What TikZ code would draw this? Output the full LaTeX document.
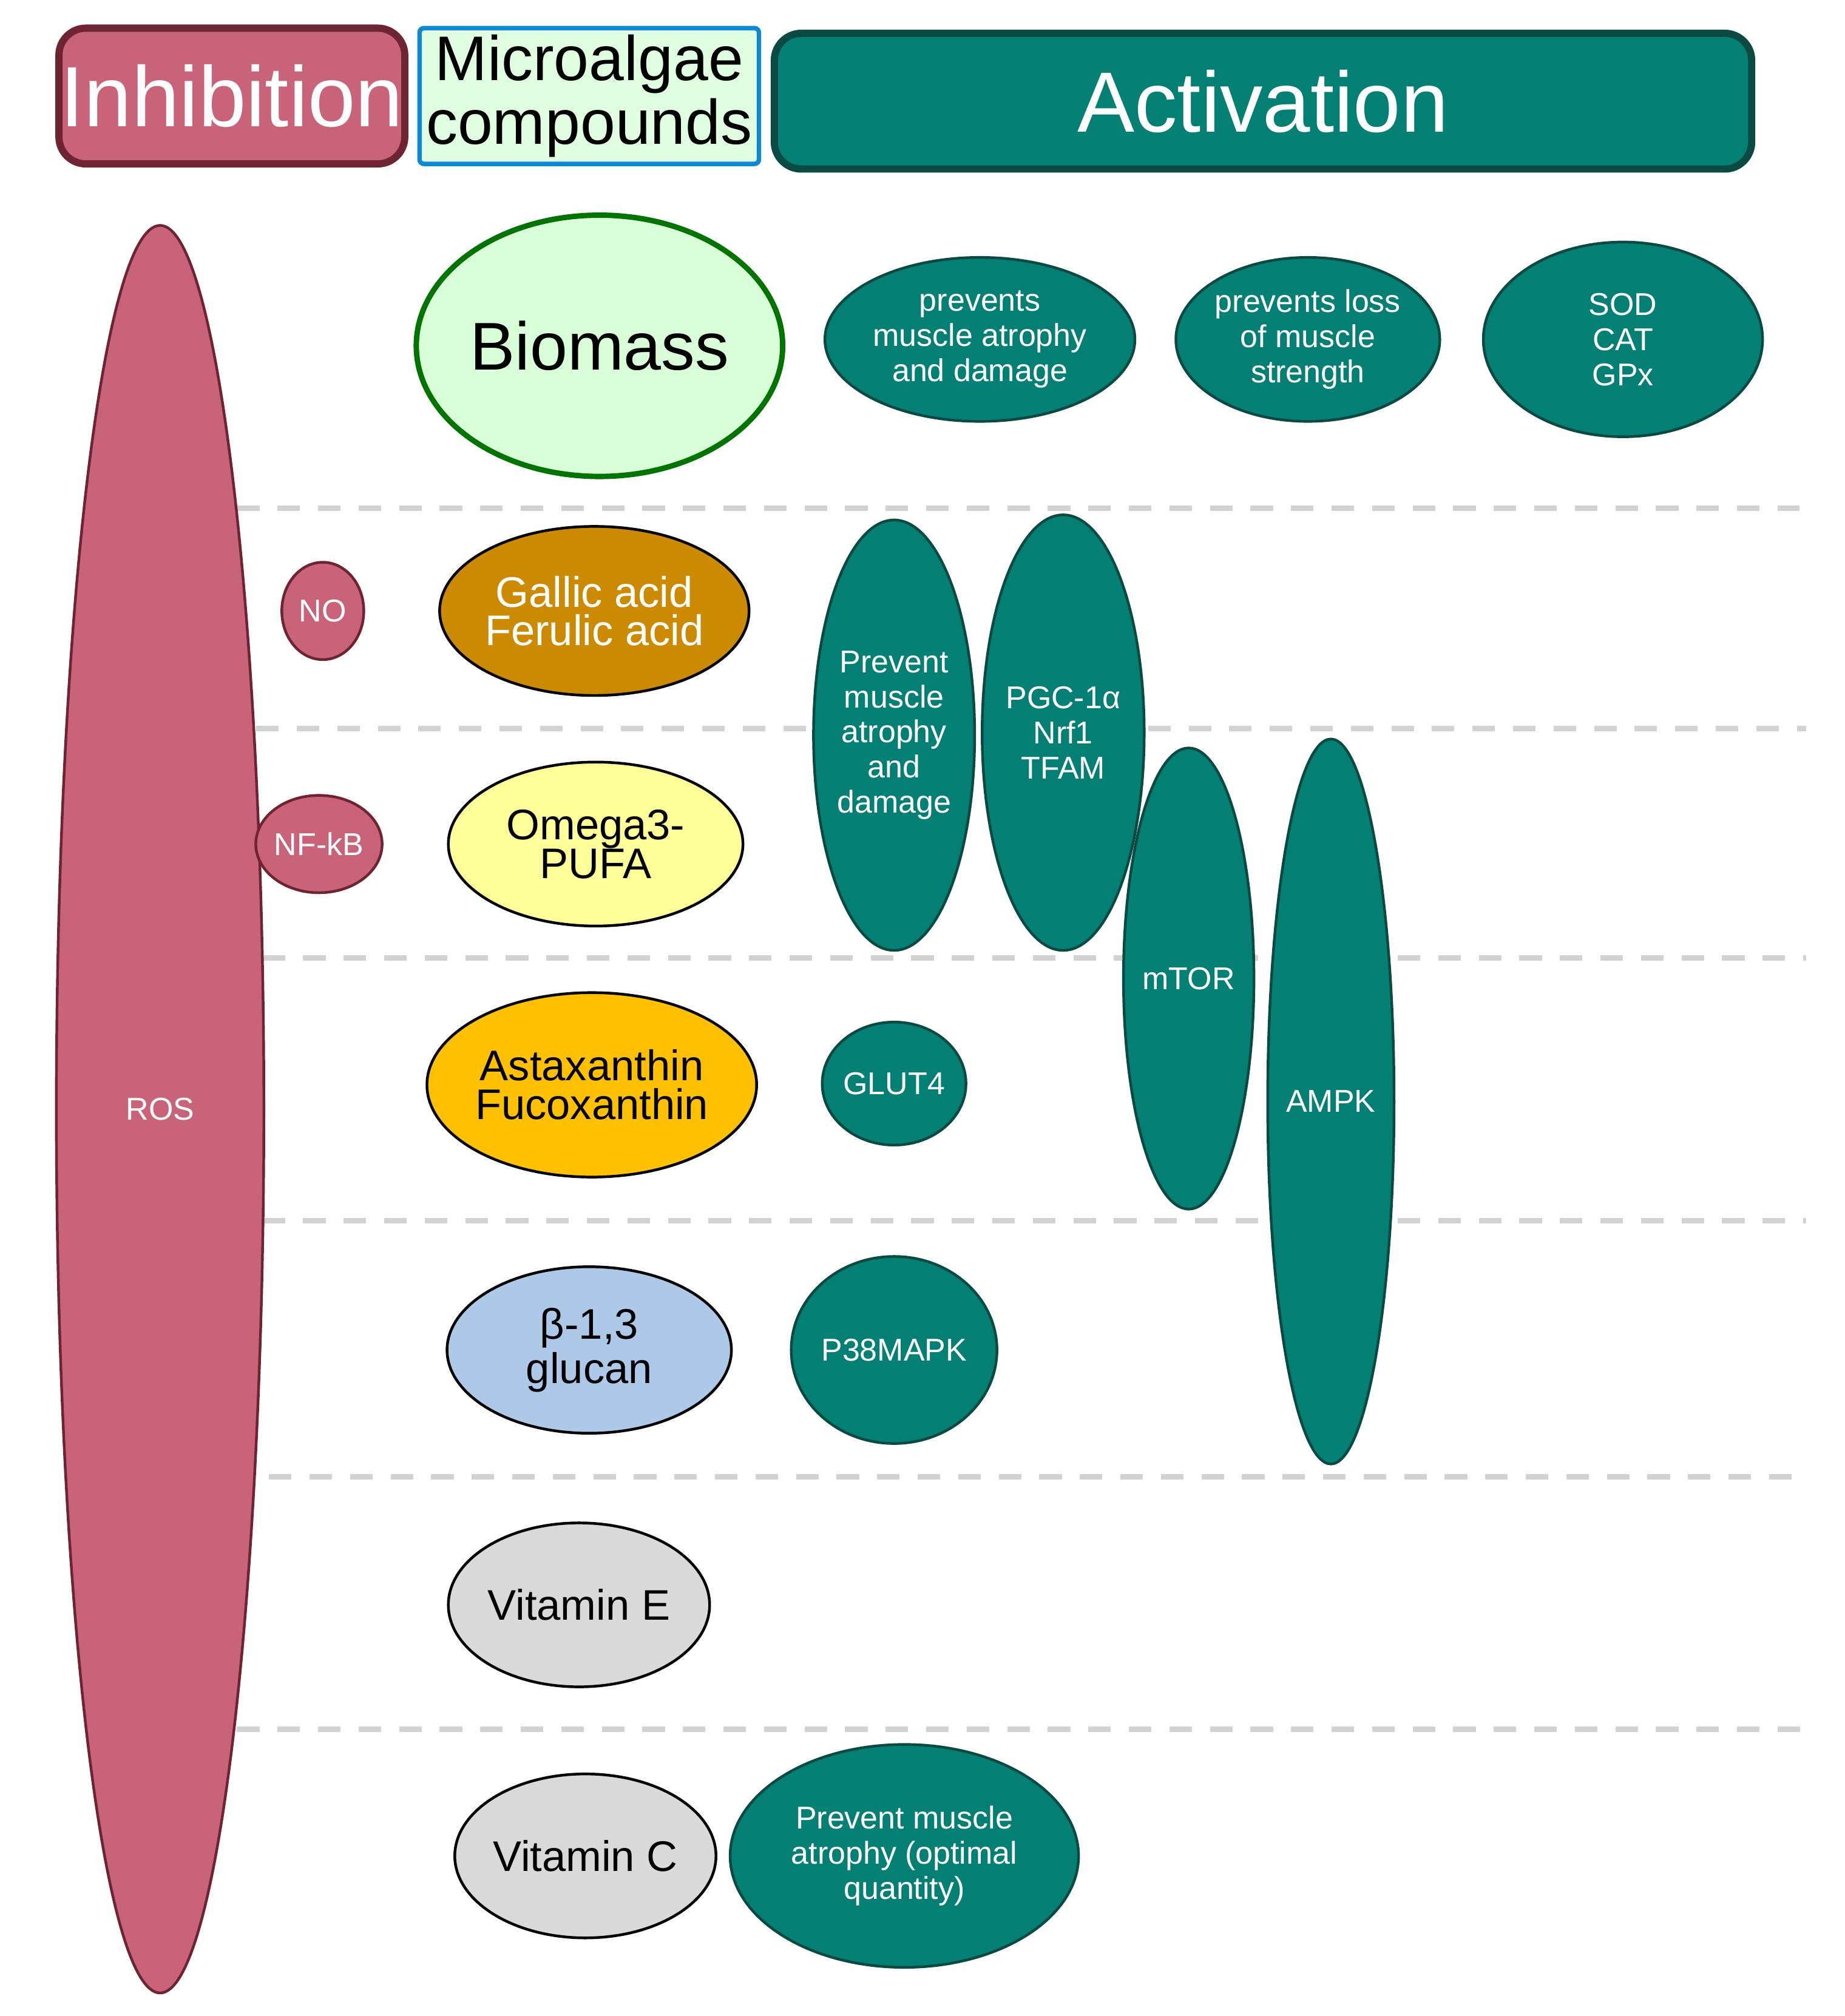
\documentclass[tikz,border=0pt]{standalone}
\usepackage{fontspec}
\setmainfont{Liberation Sans}
\usetikzlibrary{shapes.geometric}
\definecolor{pinkf}{HTML}{C9637A}
\definecolor{pinkd}{HTML}{6E2433}
\definecolor{tealf}{HTML}{047F74}
\definecolor{teald}{HTML}{0B4A43}
\begin{document}
\begin{tikzpicture}[x=0.01cm,y=-0.01cm,
 sz/.style 2 args={minimum width=#1*0.01cm,minimum height=#2*0.01cm},
 el/.style={ellipse,draw=black,line width=0.6pt,inner sep=0pt,align=center},
 inh/.style={el,fill=pinkf,draw=pinkd,text=white,font=\fontsize{7}{7.8}\selectfont},
 act/.style={el,fill=tealf,draw=teald,text=white,font=\fontsize{7}{7.8}\selectfont},
 cmp/.style={el,font=\fontsize{9.5}{8.6}\selectfont},
 hdr/.style={rounded corners=6pt,line width=1.6pt,align=center,inner sep=0pt},
 sep/.style={draw=gray!35,line width=1.2pt,dash pattern=on 5pt off 4pt}]
\path[fill=white] (0,0) rectangle (1440,1574);
% headers
\node[hdr,draw=pinkd,fill=pinkf,text=white,sz={270}{106},font=\fontsize{19}{20}\selectfont] (hI) at (181,75) {Inhibition};
\node[hdr,draw=cyan!70!blue,fill=green!12!white,rounded corners=1pt,line width=1pt,sz={265}{106},font=\fontsize{14}{12.8}\selectfont] (hM) at (460,75) {Microalgae\\compounds};
\node[hdr,draw=teald,fill=tealf,text=white,sz={763}{106},font=\fontsize{19}{20}\selectfont] (hA) at (986,79) {Activation};
% separators
\draw[sep] (185,397) -- (1405,397);
\draw[sep] (200,569) -- (1410,569);
\draw[sep] (205,748) -- (1410,748);
\draw[sep] (205,953) -- (1410,953);
\draw[sep] (210,1153) -- (1410,1153);
\draw[sep] (185,1350) -- (1410,1350);
% inhibition
\node[inh,sz={162}{1380}] (ros) at (125,866) {ROS};
\node[inh,sz={64}{76}] (no) at (252,477) {NO};
\node[inh,sz={78}{76}] (nfkb) at (249,659) {NF-kB};
% compounds
\node[el,fill=green!15!white,draw=green!45!black,line width=1.2pt,sz={234}{204},font=\fontsize{15}{16}\selectfont] (bio) at (468,270) {Biomass};
\node[cmp,fill={rgb,255:red,204;green,138;blue,0},text=white,sz={226}{132}] (gal) at (464,477) {Gallic acid\\Ferulic acid};
\node[cmp,fill={rgb,255:red,255;green,255;blue,153},sz={230}{128}] (omg) at (465,659) {Omega3-\\PUFA};
\node[cmp,fill={rgb,255:red,255;green,192;blue,0},sz={218}{144}] (ast) at (462,847) {Astaxanthin\\Fucoxanthin};
\node[cmp,fill={rgb,255:red,174;green,200;blue,232},sz={222}{130}] (glu) at (460,1054) {β-1,3\\glucan};
\node[cmp,fill=gray!30,sz={204}{128}] (ve) at (452,1253) {Vitamin E};
\node[cmp,fill=gray!30,sz={192}{128}] (vc) at (457,1449) {Vitamin C};
% activation
\node[act,sz={242}{128}] (a1) at (765,265) {prevents\\muscle atrophy\\and damage};
\node[act,sz={206}{128}] (a2) at (1021,265) {prevents loss\\of muscle\\strength};
\node[act,sz={218}{152}] (a3) at (1267,265) {SOD\\CAT\\GPx};
\node[act,sz={116}{336}] (a4) at (698,574) {Prevent\\muscle\\atrophy\\and\\damage};
\node[act,sz={110}{340}] (a5) at (830,572) {PGC-1α\\Nrf1\\TFAM};
\node[act,sz={90}{360}] (a6) at (928,764) {mTOR};
\node[act,sz={90}{566}] (a7) at (1039,860) {AMPK};
\node[act,sz={96}{96}] (a8) at (698,846) {GLUT4};
\node[act,sz={146}{146}] (a9) at (698,1054) {P38MAPK};
\node[act,sz={272}{174}] (a10) at (706,1449) {Prevent muscle\\atrophy (optimal\\quantity)};
\end{tikzpicture}
\end{document}
